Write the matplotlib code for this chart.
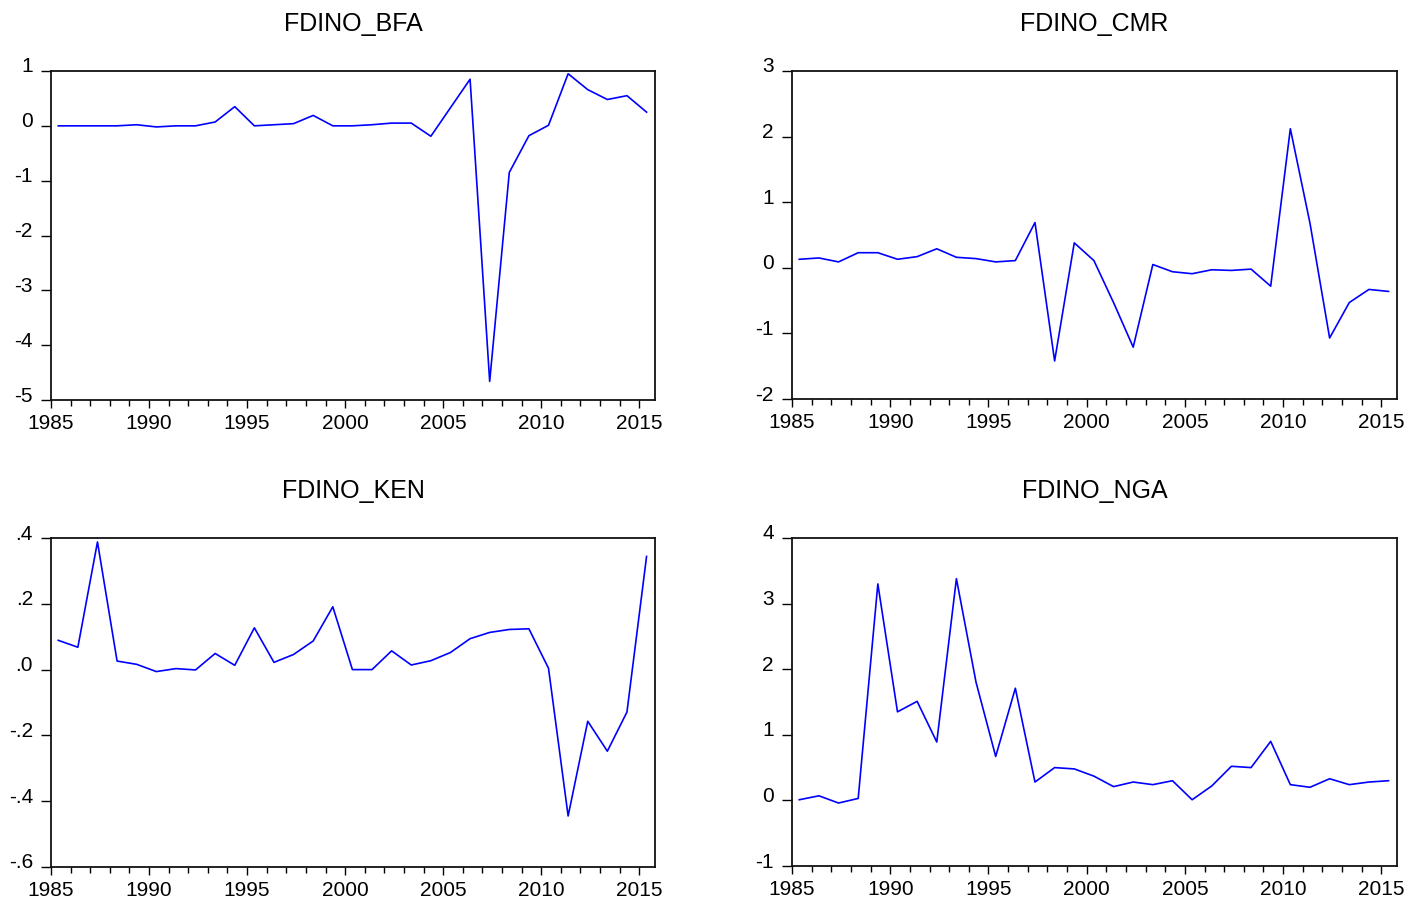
import matplotlib
matplotlib.use("Agg")
import matplotlib.pyplot as plt
import matplotlib.transforms as mtransforms
import numpy as np

plt.rcParams['font.family'] = ['Liberation Sans', 'DejaVu Sans']

years = np.arange(1985, 2016)

fdino_bfa = [0.00, 0.00, 0.00, 0.00, 0.02, -0.02, 0.00, 0.00, 0.07, 0.35,
             0.00, 0.02, 0.04, 0.19, 0.00, 0.00, 0.02, 0.05, 0.05, -0.19,
             0.33, 0.85, -4.66, -0.85, -0.18, 0.01, 0.95, 0.66, 0.48, 0.55,
             0.25]
fdino_cmr = [0.13, 0.15, 0.09, 0.23, 0.23, 0.13, 0.17, 0.29, 0.16, 0.14,
             0.09, 0.11, 0.69, -1.42, 0.38, 0.11, -0.53, -1.21, 0.05, -0.06,
             -0.09, -0.03, -0.04, -0.02, -0.28, 2.12, 0.68, -1.07, -0.53, -0.33,
             -0.36]
fdino_ken = [0.089, 0.068, 0.388, 0.026, 0.016, -0.006, 0.003, -0.001, 0.049, 0.013,
             0.127, 0.022, 0.046, 0.087, 0.191, 0.000, 0.000, 0.057, 0.014, 0.027,
             0.052, 0.094, 0.113, 0.122, 0.124, 0.004, -0.445, -0.157, -0.248, -0.129,
             0.344]
fdino_nga = [0.01, 0.07, -0.04, 0.03, 3.30, 1.35, 1.51, 0.89, 3.38, 1.80,
             0.67, 1.71, 0.28, 0.50, 0.48, 0.37, 0.21, 0.28, 0.24, 0.30,
             0.01, 0.22, 0.52, 0.50, 0.90, 0.24, 0.20, 0.33, 0.24, 0.28,
             0.30]

panels = [
    ("FDINO_BFA", fdino_bfa, [-5, -4, -3, -2, -1, 0, 1],
     ["-5", "-4", "-3", "-2", "-1", "0", "1"]),
    ("FDINO_CMR", fdino_cmr, [-2, -1, 0, 1, 2, 3],
     ["-2", "-1", "0", "1", "2", "3"]),
    ("FDINO_KEN", fdino_ken, [-0.6, -0.4, -0.2, 0.0, 0.2, 0.4],
     ["-.6", "-.4", "-.2", ".0", ".2", ".4"]),
    ("FDINO_NGA", fdino_nga, [-1, 0, 1, 2, 3, 4],
     ["-1", "0", "1", "2", "3", "4"]),
]

W, H = 1408, 899
fig = plt.figure(figsize=(W / 100, H / 100), dpi=100)

# axes boxes in pixels: left, top, right, bottom
boxes = [(51, 71, 655, 400), (792, 71, 1397, 399),
         (51, 538, 655, 867), (792, 538, 1397, 866)]

for (title, vals, yt, ytl), (l, t, r, b) in zip(panels, boxes):
    ax = fig.add_axes([l / W, 1 - b / H, (r - l) / W, (b - t) / H])
    ax.plot(years + 0.37, vals, color='#0000ff', lw=1.2)
    ax.set_xlim(1985, 2015.8)
    ax.set_ylim(yt[0], yt[-1])
    ax.set_xticks([1985, 1990, 1995, 2000, 2005, 2010, 2015])
    ax.set_xticks(np.arange(1985, 2016), minor=True)
    ax.set_yticks(yt)
    ax.set_yticklabels(ytl)
    ax.tick_params(axis='both', which='major', direction='out',
                   width=1.0, labelsize=15, colors='black')
    ax.tick_params(axis='x', which='major', length=6, pad=4)
    ax.tick_params(axis='x', which='minor', direction='out', length=4, width=1.0)
    ax.tick_params(axis='y', which='major', length=7, pad=6)
    for sp in ax.spines.values():
        sp.set_linewidth(1.3)
        sp.set_color('#111111')
    # lift y tick labels a little above their ticks
    shift = mtransforms.ScaledTranslation(0, 6 / 100, fig.dpi_scale_trans)
    for lab in ax.get_yticklabels():
        lab.set_transform(lab.get_transform() + shift)
    ax.set_title(title, fontsize=18, pad=29)

fig.savefig("out.png", dpi=100)
